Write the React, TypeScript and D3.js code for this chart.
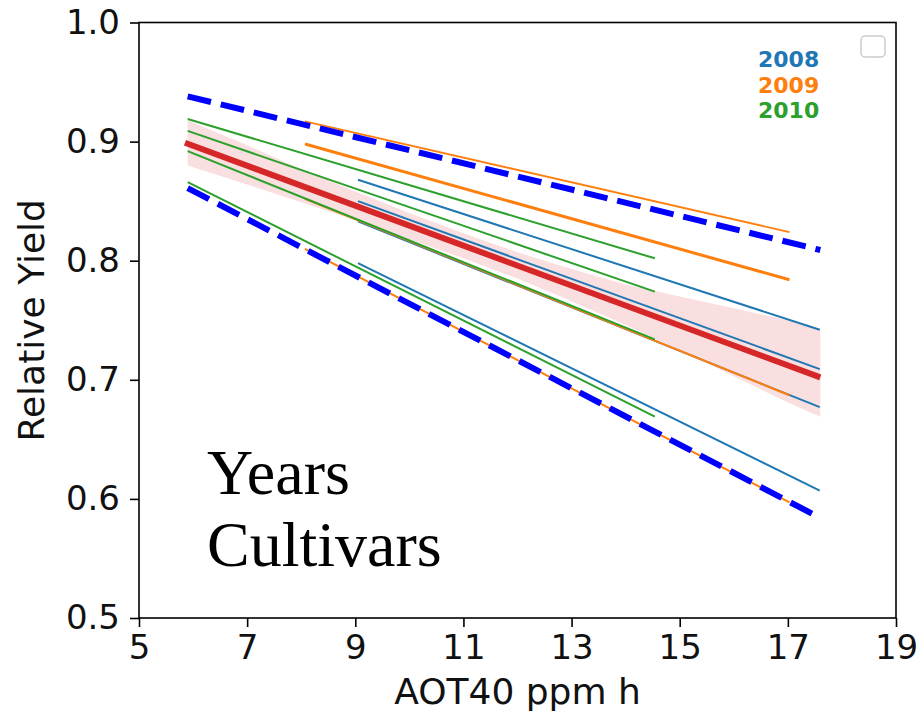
import React, { useRef, useEffect } from 'react';
import * as d3 from 'd3';

// year colours (matplotlib tab10)
const years = ['2008', '2009', '2010'];
const yearColors = ['#1f77b4', '#ff7f0e', '#2ca02c'];

// cultivar fits per year: AOT40 range and relative yield at both ends
const aot2008 = [9.05, 17.59];
const yields2008 = [
  [0.868, 0.742],
  [0.85, 0.709],
  [0.833, 0.677],
  [0.798, 0.607],
];
const aot2009 = [8.07, 17.03];
const yields2009 = [
  [0.917, 0.824],
  [0.898, 0.784],
  [0.852, 0.687],
  [0.81, 0.597],
];
const aot2010 = [5.9, 14.54];
const yields2010 = [
  [0.919, 0.802],
  [0.909, 0.774],
  [0.892, 0.734],
  [0.866, 0.669],
];

// pooled fit and its confidence band
const aotPooled = [5.85, 17.6];
const yieldPooled = [0.899, 0.702];
const bandAot = [5.9, 7, 8, 9, 10, 11, 12, 13, 14, 15, 16, 17, 17.6];
const bandHigh = [0.918, 0.897, 0.877, 0.858, 0.84, 0.823, 0.807, 0.793, 0.78, 0.77, 0.76, 0.75, 0.742];
const bandLow = [0.88, 0.864, 0.849, 0.834, 0.818, 0.802, 0.785, 0.766, 0.746, 0.725, 0.703, 0.681, 0.669];

// outer envelope (dashed)
const aotEnvelope = [5.9, 17.6];
const upperEnvelope = [0.938, 0.809];
const lowerEnvelope = [0.861, 0.584];

const xTicks = [5, 7, 9, 11, 13, 15, 17, 19];
const yTicks = [0.5, 0.6, 0.7, 0.8, 0.9, 1.0];

const App = () => {
  const svgRef = useRef(null);

  useEffect(() => {
    const svg = d3.select(svgRef.current);
    svg.selectAll('*').remove();

    const left = 139, right = 896, top = 22.5, bottom = 618;
    const x = d3.scaleLinear().domain([5, 19]).range([left, right]);
    const y = d3.scaleLinear().domain([0.5, 1.0]).range([bottom, top]);
    const font = 'DejaVu Sans, sans-serif';

    const line = d3.line().x((d) => x(d[0])).y((d) => y(d[1]));
    const seg = (aot, ys) => [[aot[0], ys[0]], [aot[1], ys[1]]];

    // confidence band
    const area = d3
      .area()
      .x((d, i) => x(bandAot[i]))
      .y0((d, i) => y(bandLow[i]))
      .y1((d, i) => y(bandHigh[i]));
    svg.append('path').attr('d', area(bandAot)).attr('fill', '#d62728').attr('fill-opacity', 0.15);

    // cultivar lines, one group per year
    const groups = [
      { aot: aot2008, ys: yields2008, widths: [2, 2, 2, 2] },
      { aot: aot2009, ys: yields2009, widths: [1.8, 3, 2, 2] },
      { aot: aot2010, ys: yields2010, widths: [2, 2, 2, 2] },
    ];
    groups.forEach((g, gi) => {
      g.ys.forEach((ys, i) => {
        svg
          .append('path')
          .attr('d', line(seg(g.aot, ys)))
          .attr('fill', 'none')
          .attr('stroke', yearColors[gi])
          .attr('stroke-width', g.widths[i]);
      });
    });

    // pooled fit
    svg
      .append('path')
      .attr('d', line(seg(aotPooled, yieldPooled)))
      .attr('fill', 'none')
      .attr('stroke', '#d62728')
      .attr('stroke-width', 6);

    // envelope
    [upperEnvelope, lowerEnvelope].forEach((ys) => {
      svg
        .append('path')
        .attr('d', line(seg(aotEnvelope, ys)))
        .attr('fill', 'none')
        .attr('stroke', '#0000ff')
        .attr('stroke-width', 6)
        .attr('stroke-dasharray', '24,10');
    });

    // axes
    const xAxis = d3.axisBottom(x).tickValues(xTicks).tickSize(9).tickPadding(8).tickSizeOuter(0);
    const gx = svg.append('g').attr('transform', `translate(0,${bottom})`).call(xAxis);
    const yAxis = d3
      .axisLeft(y)
      .tickValues(yTicks)
      .tickFormat(d3.format('.1f'))
      .tickSize(9)
      .tickPadding(10)
      .tickSizeOuter(0);
    const gy = svg.append('g').attr('transform', `translate(${left},0)`).call(yAxis);
    [gx, gy].forEach((g) => {
      g.attr('font-size', 34).attr('font-family', font);
      g.select('.domain').remove();
      g.selectAll('line').attr('stroke', '#000').attr('stroke-width', 1.6);
      g.selectAll('text').attr('fill', '#111');
    });

    // frame
    svg
      .append('rect')
      .attr('x', left)
      .attr('y', top)
      .attr('width', right - left)
      .attr('height', bottom - top)
      .attr('fill', 'none')
      .attr('stroke', '#000')
      .attr('stroke-width', 1.6);

    // axis labels
    svg
      .append('text')
      .attr('x', (left + right) / 2)
      .attr('y', 704)
      .attr('text-anchor', 'middle')
      .attr('font-family', font)
      .attr('font-size', 36)
      .attr('fill', '#111')
      .text('AOT40 ppm h');
    svg
      .append('text')
      .attr('transform', `translate(44,${(top + bottom) / 2}) rotate(-90)`)
      .attr('text-anchor', 'middle')
      .attr('font-family', font)
      .attr('font-size', 36)
      .attr('fill', '#111')
      .text('Relative Yield');

    // empty legend frame
    svg
      .append('rect')
      .attr('x', 861)
      .attr('y', 36)
      .attr('width', 24)
      .attr('height', 21)
      .attr('rx', 4)
      .attr('fill', '#fff')
      .attr('stroke', '#ccc')
      .attr('stroke-width', 1.5);

    // year labels
    years.forEach((yr, i) => {
      svg
        .append('text')
        .attr('x', 758)
        .attr('y', 67 + i * 25.5)
        .attr('font-family', font)
        .attr('font-weight', 'bold')
        .attr('font-size', 22)
        .attr('fill', yearColors[i])
        .text(yr);
    });

    // annotation
    ['Years', 'Cultivars'].forEach((t, i) => {
      svg
        .append('text')
        .attr('x', 207)
        .attr('y', 494 + i * 72)
        .attr('font-family', 'Liberation Serif, Times New Roman, serif')
        .attr('font-size', 64)
        .attr('fill', '#000')
        .text(t);
    });
  }, []);

  return (
    <svg
      ref={svgRef}
      width={920}
      height={718}
      style={{ position: 'absolute', left: 0, top: 0, background: '#fff' }}
    ></svg>
  );
};

export default App;
